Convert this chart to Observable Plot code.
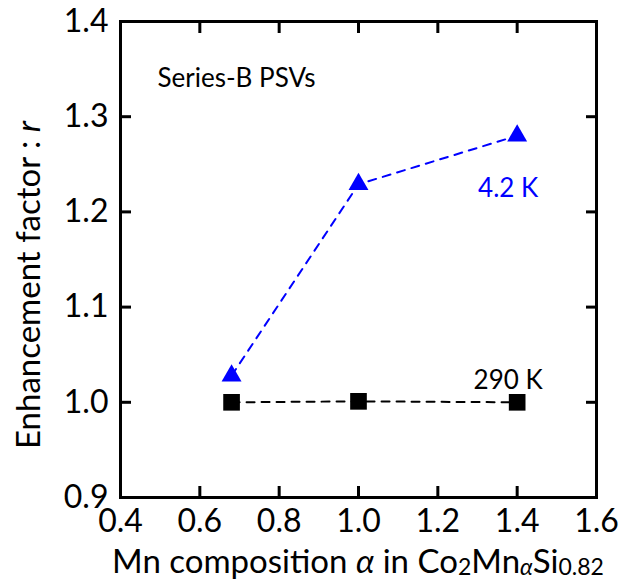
<!DOCTYPE html>
<html>
<head>
<meta charset="utf-8">
<script src="https://cdn.jsdelivr.net/npm/d3@7"></script>
<script src="https://cdn.jsdelivr.net/npm/@observablehq/plot@0.6"></script>
<style>
  html, body { margin: 0; padding: 0; background: #fff; }
  #chart { width: 622px; height: 580px; }
</style>
</head>
<body>
<div id="chart"></div>
<script>
// ---- data ----
const alpha = [0.68, 1.0, 1.4];
const r290K = [1.0, 1.001, 1.0];
const r4K = [1.028, 1.229, 1.28];
const xTicks = [0.4, 0.6, 0.8, 1.0, 1.2, 1.4, 1.6];
const yTicks = [0.9, 1.0, 1.1, 1.2, 1.3, 1.4];
const label290 = "290 K";
const label4K = "4.2 K";
const seriesLabel = "Series-B PSVs";

const d290 = alpha.map((a, i) => ({a, r: r290K[i]}));
const d4K = alpha.map((a, i) => ({a, r: r4K[i]}));
const FONT = "Lato, 'Open Sans', sans-serif";

const W = 622, H = 580, ML = 120, MR = 26, MT = 21, MB = 83;
const TICK = 11;

const plot = Plot.plot({
  width: W,
  height: H,
  marginLeft: ML,
  marginRight: MR,
  marginTop: MT,
  marginBottom: MB,
  style: {fontFamily: FONT, background: "white", color: "black"},
  x: {domain: [0.4, 1.6]},
  y: {domain: [0.9, 1.4]},
  marks: [
    // tick labels
    Plot.axisX({ticks: xTicks, tickSize: 0, tickPadding: 12, fontSize: 32, tickFormat: d3.format(".1f"), label: null}),
    Plot.axisY({ticks: yTicks, tickSize: 0, tickPadding: 12, fontSize: 32, tickFormat: d3.format(".1f"), label: null}),
    // inward ticks on all four sides
    Plot.axisX({anchor: "bottom", ticks: xTicks, tickSize: -TICK, text: null, stroke: "black", strokeWidth: 3, label: null}),
    Plot.axisX({anchor: "top", ticks: xTicks, tickSize: -TICK, text: null, stroke: "black", strokeWidth: 3, label: null}),
    Plot.axisY({anchor: "left", ticks: yTicks, tickSize: -TICK, text: null, stroke: "black", strokeWidth: 3, label: null}),
    Plot.axisY({anchor: "right", ticks: yTicks, tickSize: -TICK, text: null, stroke: "black", strokeWidth: 3, label: null}),
    Plot.frame({stroke: "black", strokeWidth: 3}),
    // series
    Plot.line(d290, {x: "a", y: "r", stroke: "black", strokeWidth: 2, strokeDasharray: "8,7"}),
    Plot.line(d4K, {x: "a", y: "r", stroke: "blue", strokeWidth: 2, strokeDasharray: "8,7"}),
    Plot.dot(d290, {x: "a", y: "r", symbol: "square", r: 9.4, fill: "black", stroke: "none"}),
    Plot.dot(d4K, {x: "a", y: "r", symbol: "triangle", r: 7.4, fill: "blue", stroke: "none"}),
    // annotations
    Plot.text([d290[2]], {x: "a", y: "r", text: () => label290, dx: -9, dy: -22, fontSize: 26, fill: "black"}),
    Plot.text([d4K[2]], {x: "a", y: "r", text: () => label4K, dx: -9, dy: 53, fontSize: 26, fill: "blue"}),
    Plot.text([seriesLabel], {frameAnchor: "top-left", text: d => d, textAnchor: "start", lineAnchor: "middle", dx: 37, dy: 57, fontSize: 26, fill: "black"})
  ]
});

const svg = d3.select(plot);
// y title
const yt = svg.append("text")
  .attr("transform", "translate(40,285) rotate(-90)")
  .attr("text-anchor", "middle")
  .attr("font-family", FONT)
  .attr("font-size", 33)
  .attr("fill", "black");
yt.append("tspan").text("Enhancement factor : ");
yt.append("tspan").attr("font-style", "italic").text("r");

// x title
const xt = svg.append("text")
  .attr("x", 358).attr("y", 573)
  .attr("text-anchor", "middle")
  .attr("font-family", FONT)
  .attr("font-size", 33)
  .attr("fill", "black");
xt.append("tspan").text("Mn composition ");
xt.append("tspan").attr("font-style", "italic").text("α");
xt.append("tspan").text(" in Co");
xt.append("tspan").attr("font-size", 23).attr("dy", 2).text("2");
xt.append("tspan").attr("dy", -2).text("Mn");
xt.append("tspan").attr("font-size", 23).attr("font-style", "italic").attr("dy", 2).text("α");
xt.append("tspan").attr("dy", -2).text("Si");
xt.append("tspan").attr("font-size", 23).attr("dy", 2).text("0.82");

document.getElementById("chart").appendChild(plot);
</script>
</body>
</html>
